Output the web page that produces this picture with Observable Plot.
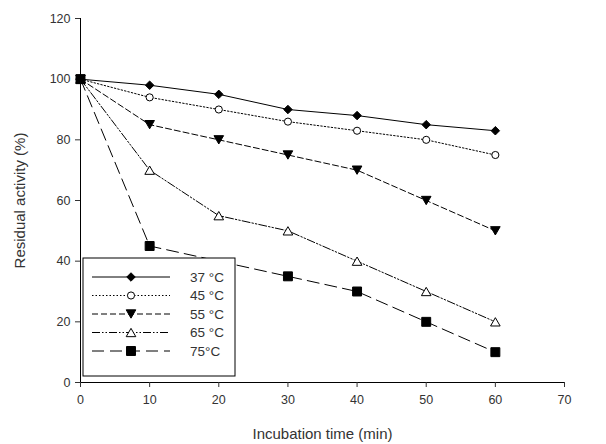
<!DOCTYPE html>
<html><head><meta charset="utf-8">
<script src="https://cdn.jsdelivr.net/npm/d3@7"></script>
<script src="https://cdn.jsdelivr.net/npm/@observablehq/plot@0.6"></script>
<style>body{margin:0;background:#fff;font-family:Arial,"Liberation Sans",sans-serif}</style>
</head><body><div id="chart"></div>
<script>
const times = [0, 10, 20, 30, 40, 50, 60];
const series = ["37 °C", "45 °C", "55 °C", "65 °C", "75°C"];
const v37 = [100, 98, 95, 90, 88, 85, 83];
const v45 = [100, 94, 90, 86, 83, 80, 75];
const v55 = [100, 85, 80, 75, 70, 60, 50];
const v65 = [100, 70, 55, 50, 40, 30, 20];
const v75 = [100, 45, null, 35, 30, 20, 10];
const xTicks = [0, 10, 20, 30, 40, 50, 60, 70];
const yTicks = [0, 20, 40, 60, 80, 100, 120];

const invTri = {draw(ctx, size){const s=Math.sqrt(size/0.433); const h=s*0.866; ctx.moveTo(-s/2,-h/2); ctx.lineTo(s/2,-h/2); ctx.lineTo(0,h/2); ctx.closePath();}};
const upTri = {draw(ctx, size){const s=Math.sqrt(size/0.433); const h=s*0.866; ctx.moveTo(-s/2,h/2); ctx.lineTo(s/2,h/2); ctx.lineTo(0,-h/2); ctx.closePath();}};
const diam = {draw(ctx, size){const r=Math.sqrt(size/2); ctx.moveTo(0,-r); ctx.lineTo(r,0); ctx.lineTo(0,r); ctx.lineTo(-r,0); ctx.closePath();}};

const styles = [
  {vals: v37, dash: null, sym: diam, size: 36, fill: "black"},
  {vals: v45, dash: "1.5,2", sym: "circle", size: 40, fill: "white"},
  {vals: v55, dash: "6,3", sym: invTri, size: 40, fill: "black"},
  {vals: v65, dash: "8,2,1.5,2,1.5,2", sym: upTri, size: 40, fill: "white"},
  {vals: v75, dash: "12,6", sym: "square", size: 80, fill: "black"}
];

const marks = [
  Plot.ruleX([0], {stroke: "black", strokeWidth: 1}),
  Plot.ruleY([0], {stroke: "black", strokeWidth: 1}),
  Plot.axisY({ticks: yTicks, tickSize: 5, tickPadding: 5, fontSize: 12.5, label: "Residual activity (%)", labelAnchor: "center", labelOffset: 66, labelArrow: "none"}),
  Plot.axisX({ticks: xTicks, tickSize: 5, tickPadding: 8, fontSize: 12.5, label: "Incubation time (min)", labelAnchor: "center", labelOffset: 56, labelArrow: "none"})
];
styles.forEach((s) => {
  const data = times.map((t, j) => ({t, v: s.vals[j]})).filter(d => d.v != null);
  marks.push(Plot.line(data, {x: "t", y: "v", stroke: "black", strokeWidth: 1, strokeDasharray: s.dash}));
});
styles.forEach((s) => {
  const data = times.map((t, j) => ({t, v: s.vals[j]})).filter(d => d.v != null);
  marks.push(Plot.dot(data, {x: "t", y: "v", symbol: () => s.sym, r: Math.sqrt(s.size/Math.PI), fill: s.fill, stroke: "black", strokeWidth: 1}));
});

const plot = Plot.plot({
  width: 606, height: 444,
  marginLeft: 80, marginRight: 42, marginTop: 18, marginBottom: 62,
  style: {fontFamily: "Arial, 'Liberation Sans', sans-serif", color: "#333", background: "white", fontSize: "12.5px"},
  x: {domain: [0, 70]},
  y: {domain: [0, 120]},
  symbol: {type: "identity"},
  marks
});
document.getElementById("chart").appendChild(plot);

const svg = d3.select(plot);
svg.selectAll('g[aria-label="y-axis label"], g[aria-label="x-axis label"]').attr("font-size", 15);

// legend box drawn into the SVG
const g = svg.append("g").attr("text-anchor", "start");
const box = {x0: 83, y0: 258, x1: 235, y1: 376};
g.append("rect").attr("x", box.x0).attr("y", box.y0).attr("width", box.x1-box.x0).attr("height", box.y1-box.y0).attr("fill", "white").attr("stroke", "black");
series.forEach((name, i) => {
  const s = styles[i];
  const y = 277 + i * 18.5;
  g.append("line").attr("x1", 92).attr("x2", 170).attr("y1", y).attr("y2", y).attr("stroke", "black").attr("stroke-dasharray", s.dash);
  g.append("path").attr("transform", `translate(131,${y})`).attr("d", d3.symbol(typeof s.sym === "string" ? (s.sym === "circle" ? d3.symbolCircle : d3.symbolSquare) : s.sym, s.size)()).attr("fill", s.fill).attr("stroke", "black");
  g.append("text").attr("x", 190).attr("y", y).attr("dy", "0.35em").attr("font-size", 13.5).attr("fill", "#333").text(name);
});
</script></body></html>
